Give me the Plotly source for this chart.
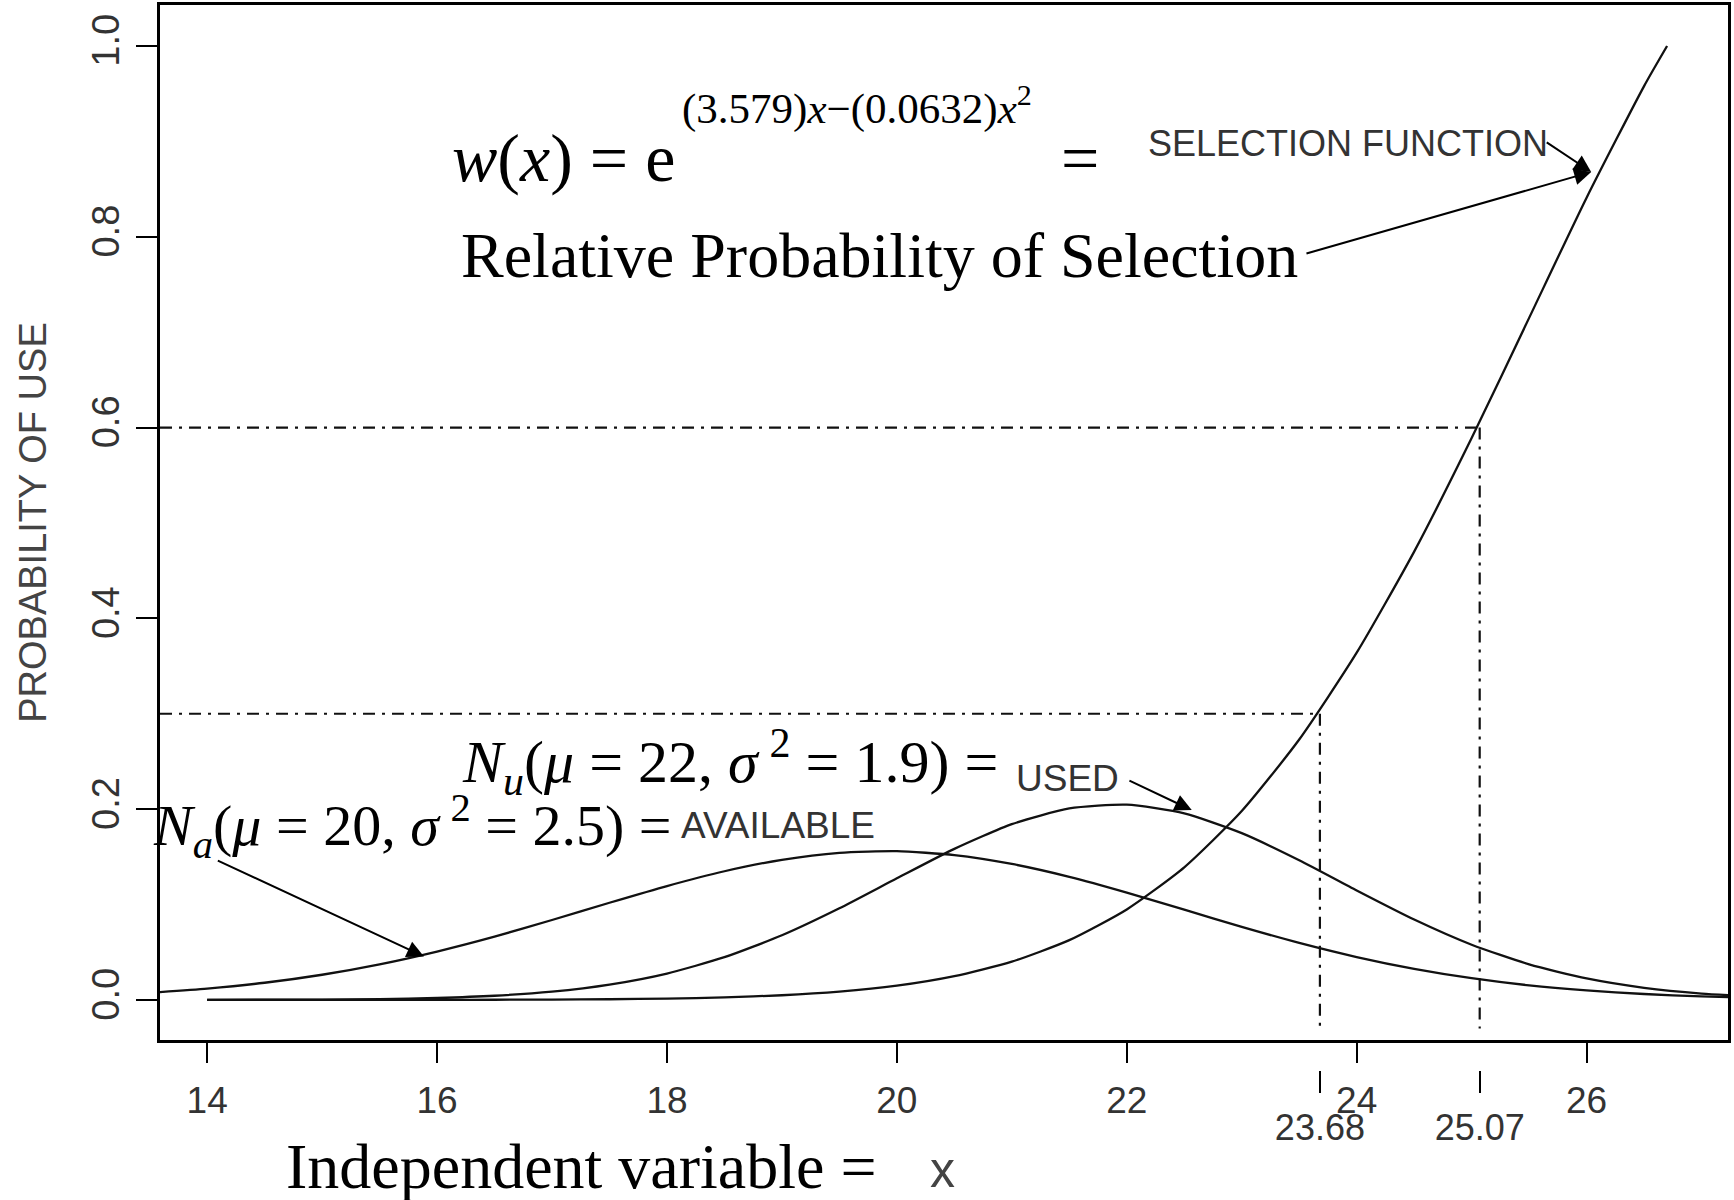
import plotly.graph_objects as go

# ---------------- data ----------------
x_norm = [13.5, 14.0, 14.5, 15.0, 15.5, 16.0, 16.5, 17.0, 17.5, 18.0, 18.5, 19.0, 19.5,
          20.0, 20.5, 21.0, 21.5, 22.0, 22.5, 23.0, 23.5, 24.0, 24.5, 25.0, 25.5, 26.0,
          26.5, 27.0, 27.5]
available = [0.0075, 0.0119, 0.0180, 0.0264, 0.0373, 0.0507, 0.0663, 0.0838, 0.1019,
             0.1194, 0.1349, 0.1469, 0.1542, 0.1559, 0.1519, 0.1426, 0.1291, 0.1126,
             0.0946, 0.0766, 0.0598, 0.0450, 0.0326, 0.0228, 0.0153, 0.0100, 0.0062,
             0.0037, 0.0022]
x_used = [14.0, 14.5, 15.0, 15.5, 16.0, 16.5, 17.0, 17.5, 18.0, 18.5, 19.0, 19.5, 20.0,
          20.5, 21.0, 21.5, 22.0, 22.5, 23.0, 23.5, 24.0, 24.5, 25.0, 25.5, 26.0, 26.5,
          27.0, 27.5]
used = [0.0001, 0.0002, 0.0004, 0.0009, 0.0021, 0.0044, 0.0087, 0.0161, 0.0277, 0.0448,
        0.0678, 0.0961, 0.1275, 0.1584, 0.1843, 0.2007, 0.2047, 0.1955, 0.1748, 0.1464,
        0.1148, 0.0843, 0.0579, 0.0373, 0.0225, 0.0127, 0.0067, 0.0033]
x_sel = [14.0, 14.5, 15.0, 15.5, 16.0, 16.5, 17.0, 17.5, 18.0, 18.5, 19.0, 19.5, 20.0,
         20.5, 21.0, 21.5, 22.0, 22.5, 23.0, 23.5, 24.0, 24.5, 25.0, 25.5, 26.0, 26.5, 26.7]
selection = [0.0, 0.0, 0.0, 0.0, 0.0001, 0.0002, 0.0004, 0.0007, 0.0014, 0.0027, 0.0049,
             0.0087, 0.0149, 0.0249, 0.0401, 0.0627, 0.0949, 0.139, 0.198, 0.273, 0.364,
             0.470, 0.589, 0.715, 0.841, 0.958, 1.0]

x_ticks = [14, 16, 18, 20, 22, 24, 26]
y_ticks = [0.0, 0.2, 0.4, 0.6, 0.8, 1.0]
y_ticktext = ["0.0", "0.2", "0.4", "0.6", "0.8", "1.0"]
x_marks = [23.68, 25.07]          # x where selection = 0.3 and 0.6
y_marks = [0.3, 0.6]
x_marks_text = ["23.68", "25.07"]

X_RANGE = [13.59, 27.23]
Y_RANGE = [-0.042, 1.043]

# ---------------- layout helpers (pixel -> paper) ----------------
W, H = 1734, 1200
ML, MR, MT, MB = 160, 6, 5, 130
PW, PH = W - ML - MR, H - MT - MB
def px(x):
    return (x - ML) / PW
def py(y):
    return (H - MB - y) / PH

SERIF = "Liberation Serif, Times New Roman, serif"
SANS = "Liberation Sans, Arial, Helvetica, sans-serif"
LINE = "#111111"
DASH = "12px,7px,3px,7px"

fig = go.Figure()
for xs, ys, nm in [(x_norm, available, "AVAILABLE"), (x_used, used, "USED"),
                   (x_sel, selection, "SELECTION FUNCTION")]:
    fig.add_trace(go.Scatter(x=xs, y=ys, mode="lines",
                             line=dict(color=LINE, width=2.3, shape="spline", smoothing=0.6),
                             name=nm, hoverinfo="skip"))
# invisible trace carrying the secondary x axis (marks 23.68 / 25.07)
fig.add_trace(go.Scatter(x=x_marks, y=[None, None], xaxis="x2", mode="lines",
                         showlegend=False, hoverinfo="skip"))

# dash-dot guide lines
for xm, ym in zip(x_marks, y_marks):
    fig.add_shape(type="line", xref="x", yref="y", x0=X_RANGE[0], x1=xm, y0=ym, y1=ym,
                  line=dict(color=LINE, width=2.2, dash=DASH))
    fig.add_shape(type="line", xref="x", yref="y", x0=xm, x1=xm, y0=ym, y1=-0.03,
                  line=dict(color=LINE, width=2.2, dash=DASH))

ann = []
def text(s, x, y, size, font=SERIF, color="black", xanchor="left"):
    ann.append(dict(text=s, x=px(x), y=py(y), xref="paper", yref="paper",
                    xanchor=xanchor, yanchor="middle", showarrow=False,
                    font=dict(family=font, size=size, color=color)))

text("<i>w</i>(<i>x</i>) = e", 450, 158, 68)
text("(3.579)<i>x</i>−(0.0632)<i>x</i><sup>2</sup>", 680, 106, 43)
text("=", 1080, 158, 68, xanchor="center")
text("SELECTION FUNCTION", 1146, 143, 36, font=SANS, color="#333333")
text("Relative Probability of Selection", 459, 256, 64)
text("<i>N</i><sub><i>u</i></sub>(<i>μ</i> = 22, <i>σ</i>\u2009<sup>2</sup> = 1.9) =", 460, 762, 60)
text("USED", 1014, 779, 37, font=SANS, color="#333333")
text("<i>N</i><sub><i>a</i></sub>(<i>μ</i> = 20, <i>σ</i>\u2009<sup>2</sup> = 2.5) =", 151, 826, 58)
text("AVAILABLE", 679, 826, 37, font=SANS, color="#333333")
text("Independent variable =", 284, 1166, 64)
text("x", 942, 1170, 50, font=SANS, color="#444444", xanchor="center")

def arrow(x, y, ax, ay):
    ann.append(dict(text="", x=x, y=y, ax=ax, ay=ay, xref="x", yref="y",
                    axref="x", ayref="y", showarrow=True, arrowhead=2,
                    arrowsize=1.7, arrowwidth=2, arrowcolor="black", standoff=0))

arrow(26.04, 0.868, 25.64, 0.900)
arrow(26.04, 0.868, 23.55, 0.782)
arrow(22.565, 0.199, 22.01, 0.2306)
arrow(15.886, 0.0455, 14.08, 0.1468)

fig.update_layout(
    width=W, height=H, autosize=False,
    margin=dict(l=ML, r=MR, t=MT, b=MB, autoexpand=False),
    paper_bgcolor="white", plot_bgcolor="white",
    showlegend=False,
    annotations=ann,
    xaxis=dict(range=X_RANGE, tickvals=x_ticks, ticks="outside", ticklen=20,
               tickwidth=2, tickcolor="black", showline=True, linewidth=2.5,
               linecolor="black", mirror=True, showgrid=False, zeroline=False,
               anchor="y", ticklabelstandoff=6, automargin=False,
               tickfont=dict(family=SANS, size=37, color="#333333")),
    xaxis2=dict(range=X_RANGE, overlaying="x", anchor="free", position=0,
                side="bottom", tickvals=x_marks, ticktext=x_marks_text,
                ticks="outside", ticklen=22, tickwidth=2, tickcolor="black",
                showline=False, showgrid=False, zeroline=False, ticklabelstandoff=4,
                automargin=False,
                tickfont=dict(family=SANS, size=36, color="#333333")),
    yaxis=dict(range=Y_RANGE, domain=[30 / PH, 1], tickvals=y_ticks, ticktext=y_ticktext,
               tickangle=-90, ticks="outside", ticklen=21, tickwidth=2,
               tickcolor="black", showline=True, linewidth=2.5, linecolor="black",
               mirror=True, showgrid=False, zeroline=False, automargin=False,
               ticklabelstandoff=2,
               tickfont=dict(family=SANS, size=38, color="#333333"),
               title=dict(text="PROBABILITY OF USE", standoff=27,
                          font=dict(family=SANS, size=38, color="#444444"))),
)

fig.write_html("out.html", config={"displayModeBar": False},
               post_script="document.body.style.margin='0';document.body.style.overflow='hidden';")
